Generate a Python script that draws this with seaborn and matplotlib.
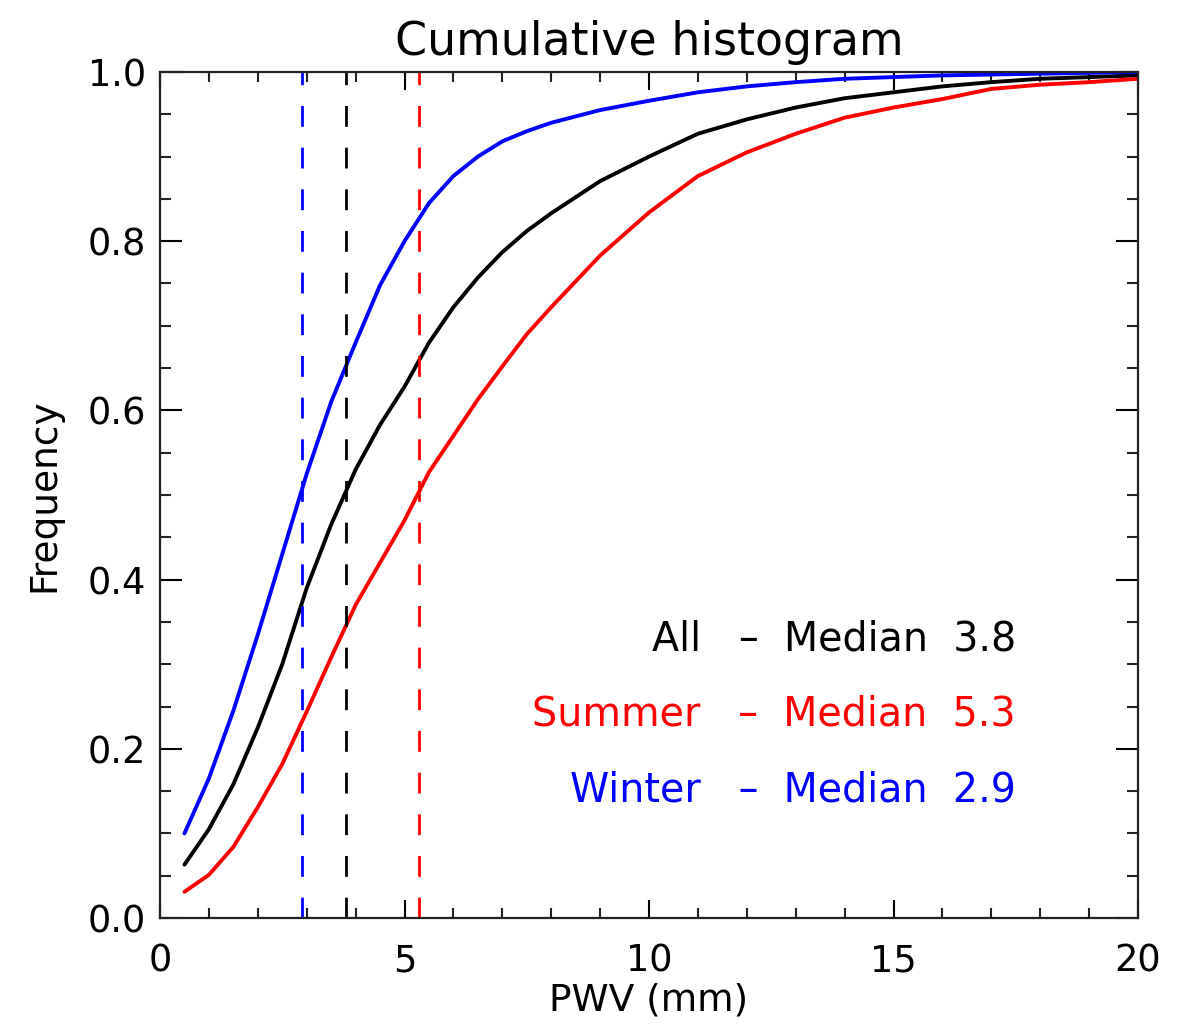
import numpy as np
import pandas as pd
import matplotlib
matplotlib.use("Agg")
import matplotlib.pyplot as plt
import seaborn as sns

# ---- data ----
pwv = [0.5, 1.0, 1.5, 2.0, 2.5, 3.0, 3.5, 4.0, 4.5, 5.0, 5.5, 6.0, 6.5, 7.0, 7.5, 8.0,
       9, 10, 11, 12, 13, 14, 15, 16, 17, 18, 19, 20]
freq_all = [0.063, 0.105, 0.158, 0.225, 0.30, 0.39, 0.465, 0.53, 0.583, 0.628, 0.68, 0.722,
            0.757, 0.787, 0.812, 0.833,
            0.871, 0.90, 0.927, 0.944, 0.958, 0.969, 0.976, 0.983, 0.988, 0.992, 0.994, 0.996]
freq_summer = [0.031, 0.051, 0.084, 0.131, 0.182, 0.244, 0.308, 0.37, 0.42, 0.47, 0.527, 0.57,
               0.613, 0.652, 0.69, 0.722,
               0.783, 0.834, 0.877, 0.905, 0.927, 0.946, 0.958, 0.968, 0.98, 0.985, 0.988, 0.992]
freq_winter = [0.10, 0.165, 0.245, 0.335, 0.43, 0.525, 0.61, 0.68, 0.748, 0.80, 0.845, 0.877,
               0.90, 0.918, 0.93, 0.94,
               0.955, 0.966, 0.976, 0.983, 0.988, 0.992, 0.994, 0.996, 0.997, 0.998, 0.999, 1.0]
groups = ["All", "Summer", "Winter"]
medians = [3.8, 5.3, 2.9]
colors = ["black", "#ff0000", "#0000ff"]
title = "Cumulative histogram"
xlabel = "PWV (mm)"
ylabel = "Frequency"

df = pd.concat([
    pd.DataFrame({"PWV": pwv, "Frequency": f, "Group": g})
    for f, g in zip([freq_all, freq_summer, freq_winter], groups)
], ignore_index=True)

sns.set_style("ticks")
plt.rcParams["font.family"] = ["DejaVu Sans"]
plt.rcParams["text.color"] = "black"
plt.rcParams["axes.labelcolor"] = "black"
plt.rcParams["xtick.color"] = "black"
plt.rcParams["ytick.color"] = "black"

fig = plt.figure(figsize=(11.85, 10.35), dpi=100)
ax = fig.add_axes([160/1185, 1 - 918/1035, (1138-160)/1185, (918-72)/1035])

sns.lineplot(data=df, x="PWV", y="Frequency", hue="Group", hue_order=groups,
             palette=dict(zip(groups, colors)), linewidth=2.8, legend=False, ax=ax)

for m, c in zip(medians, colors):
    ax.axvline(m, color=c, linewidth=2.0, linestyle=(0, (7.5, 7.5)))

ax.set_xlim(0, 20)
ax.set_ylim(0, 1.0)
ax.set_xticks([0, 5, 10, 15, 20])
ax.set_xticks(np.arange(0, 21, 1), minor=True)
ax.set_yticks([0.0, 0.2, 0.4, 0.6, 0.8, 1.0])
ax.set_yticks(np.arange(0, 1.0001, 0.05), minor=True)
ax.set_yticklabels(["0.0", "0.2", "0.4", "0.6", "0.8", "1.0"])

ax.tick_params(axis="x", which="major", direction="in", length=13, width=1.5,
               top=True, bottom=True, labelsize=26.5, pad=18, colors="black")
ax.tick_params(axis="x", which="minor", direction="in", length=7, width=1.5,
               top=True, bottom=True, colors="#222222")
ax.tick_params(axis="y", which="major", direction="in", length=15.5, width=1.5,
               left=True, right=True, labelsize=26.5, pad=10, colors="black")
ax.tick_params(axis="y", which="minor", direction="in", length=8, width=1.5,
               left=True, right=True, colors="#222222")
for s in ax.spines.values():
    s.set_linewidth(1.6)
    s.set_color("#222222")

ax.set_xlabel(xlabel, fontsize=27, labelpad=2, color="black")
ax.set_ylabel(ylabel, fontsize=27, labelpad=18, color="black")
ax.set_title(title, fontsize=33, pad=12, color="black")

labels = ["All   –  Median  3.8", "Summer   –  Median  5.3", "Winter   –  Median  2.9"]
for i, (lab, c) in enumerate(zip(labels, colors)):
    ax.text(0.875, 0.329 - i * 0.089, lab, color=c, fontsize=28.5, ha="right",
            va="center", transform=ax.transAxes)

fig.savefig("out.png", dpi=100)
